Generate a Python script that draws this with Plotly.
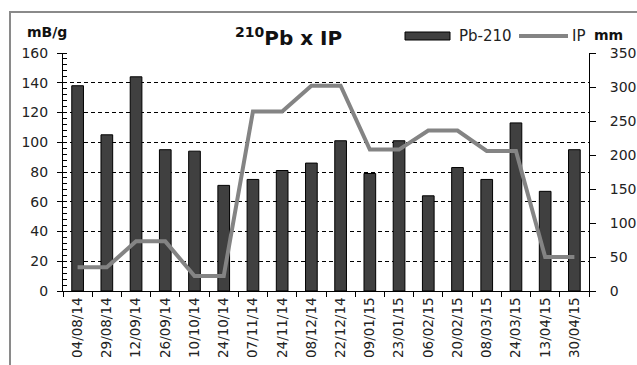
import plotly.graph_objects as go

dates = ["04/08/14", "29/08/14", "12/09/14", "26/09/14", "10/10/14", "24/10/14",
         "07/11/14", "24/11/14", "08/12/14", "22/12/14", "09/01/15", "23/01/15",
         "06/02/15", "20/02/15", "08/03/15", "24/03/15", "13/04/15", "30/04/15"]
pb210 = [138, 105, 144, 95, 94, 71, 75, 81, 86, 101, 79, 101, 64, 83, 75, 113, 67, 95]
ip = [35, 35, 73, 73, 22, 22, 264, 264, 302, 302, 208, 208, 236, 236, 206, 206, 50, 50]

left_ticks = [0, 20, 40, 60, 80, 100, 120, 140, 160]
right_ticks = [0, 50, 100, 150, 200, 250, 300, 350]

W, H = 637, 365
L, R, T, B = 63, 48, 53, 74
PW, PH = W - L - R, H - T - B


def px(p):
    return (p - L) / PW


def py(q):
    return (H - B - q) / PH


FONT = "DejaVu Sans"

fig = go.Figure()
fig.add_trace(go.Bar(x=dates, y=pb210, name="Pb-210", yaxis="y",
                     marker=dict(color="#404040", line=dict(color="#000000", width=1)),
                     showlegend=False))
fig.add_trace(go.Scatter(x=dates, y=ip, name="IP", yaxis="y2", mode="lines",
                         line=dict(color="#848484", width=4), showlegend=False))

fig.update_layout(
    width=W, height=H,
    margin=dict(l=L, r=R, t=T, b=B, autoexpand=False),
    paper_bgcolor="white", plot_bgcolor="white",
    bargap=0.6,
    showlegend=False,
    font=dict(family=FONT, color="#222222", size=14),
    xaxis=dict(type="category", range=[-0.5, len(dates) - 0.5], automargin=False,
               tickson="boundaries", ticks="outside", ticklen=5, tickcolor="black",
               showline=True, linecolor="black", linewidth=1,
               tickangle=-90, tickfont=dict(size=13.5, family=FONT, color="#222222"),
               showgrid=False),
    yaxis=dict(range=[0, 160], tickvals=left_ticks, ticks="outside", ticklen=5,
               automargin=False,
               tickcolor="black", showline=True, linecolor="black", linewidth=1,
               showgrid=True, gridcolor="black", gridwidth=1, griddash="4px,3px",
               zeroline=False, tickfont=dict(size=14, family=FONT, color="#222222"),
               ticklabelstandoff=6,
               minor=dict(ticks="inside", dtick=4, ticklen=4, tickcolor="black",
                          showgrid=False)),
    yaxis2=dict(range=[0, 350], tickvals=right_ticks, overlaying="y", side="right",
                automargin=False,
                ticks="outside", ticklen=6, tickcolor="black",
                showline=True, linecolor="black", linewidth=1,
                showgrid=False, zeroline=False,
                tickfont=dict(size=14, family=FONT, color="#222222"),
                ticklabelstandoff=11),
    yaxis3=dict(range=[0, 160], tickvals=left_ticks, overlaying="y", side="left",
                automargin=False,
                ticks="inside", ticklen=5, tickcolor="black", showticklabels=False,
                showline=False, showgrid=False, zeroline=False),
)

shapes = [
    # outer chart border
    dict(type="rect", xref="paper", yref="paper", x0=px(10), x1=px(700),
         y0=py(12), y1=py(420), line=dict(color="#8a8a8a", width=2),
         fillcolor="rgba(0,0,0,0)", layer="below"),
    # legend swatches
    dict(type="rect", xref="paper", yref="paper", x0=px(405), x1=px(450),
         y0=py(40), y1=py(32), fillcolor="#404040", line=dict(color="black", width=1)),
    dict(type="line", xref="paper", yref="paper", x0=px(519), x1=px(568),
         y0=py(36), y1=py(36), line=dict(color="#848484", width=4)),
]
fig.update_layout(shapes=shapes)

annotations = [
    dict(text="<b><sup>210</sup>Pb x IP</b>", x=px(288), y=py(37), xref="paper", yref="paper",
         xanchor="center", yanchor="middle", showarrow=False,
         font=dict(size=20, family=FONT, color="#111111")),
    dict(text="Pb-210", x=px(457), y=py(36), xref="paper", yref="paper",
         xanchor="left", yanchor="middle", showarrow=False,
         font=dict(size=15, family=FONT, color="#222222")),
    dict(text="IP", x=px(570), y=py(36), xref="paper", yref="paper",
         xanchor="left", yanchor="middle", showarrow=False,
         font=dict(size=15, family=FONT, color="#222222")),
    dict(text="<b>mm</b>", x=px(592), y=py(35), xref="paper", yref="paper",
         xanchor="left", yanchor="middle", showarrow=False,
         font=dict(size=14, family=FONT, color="#111111")),
    dict(text="<b>mB/g</b>", x=px(25), y=py(32), xref="paper", yref="paper",
         xanchor="left", yanchor="middle", showarrow=False,
         font=dict(size=14, family=FONT, color="#111111")),
]
fig.update_layout(annotations=annotations)

fig.write_html("out.html",
               config={"displayModeBar": False},
               post_script="document.body.style.margin='0';"
                           "document.body.style.overflow='hidden';")
